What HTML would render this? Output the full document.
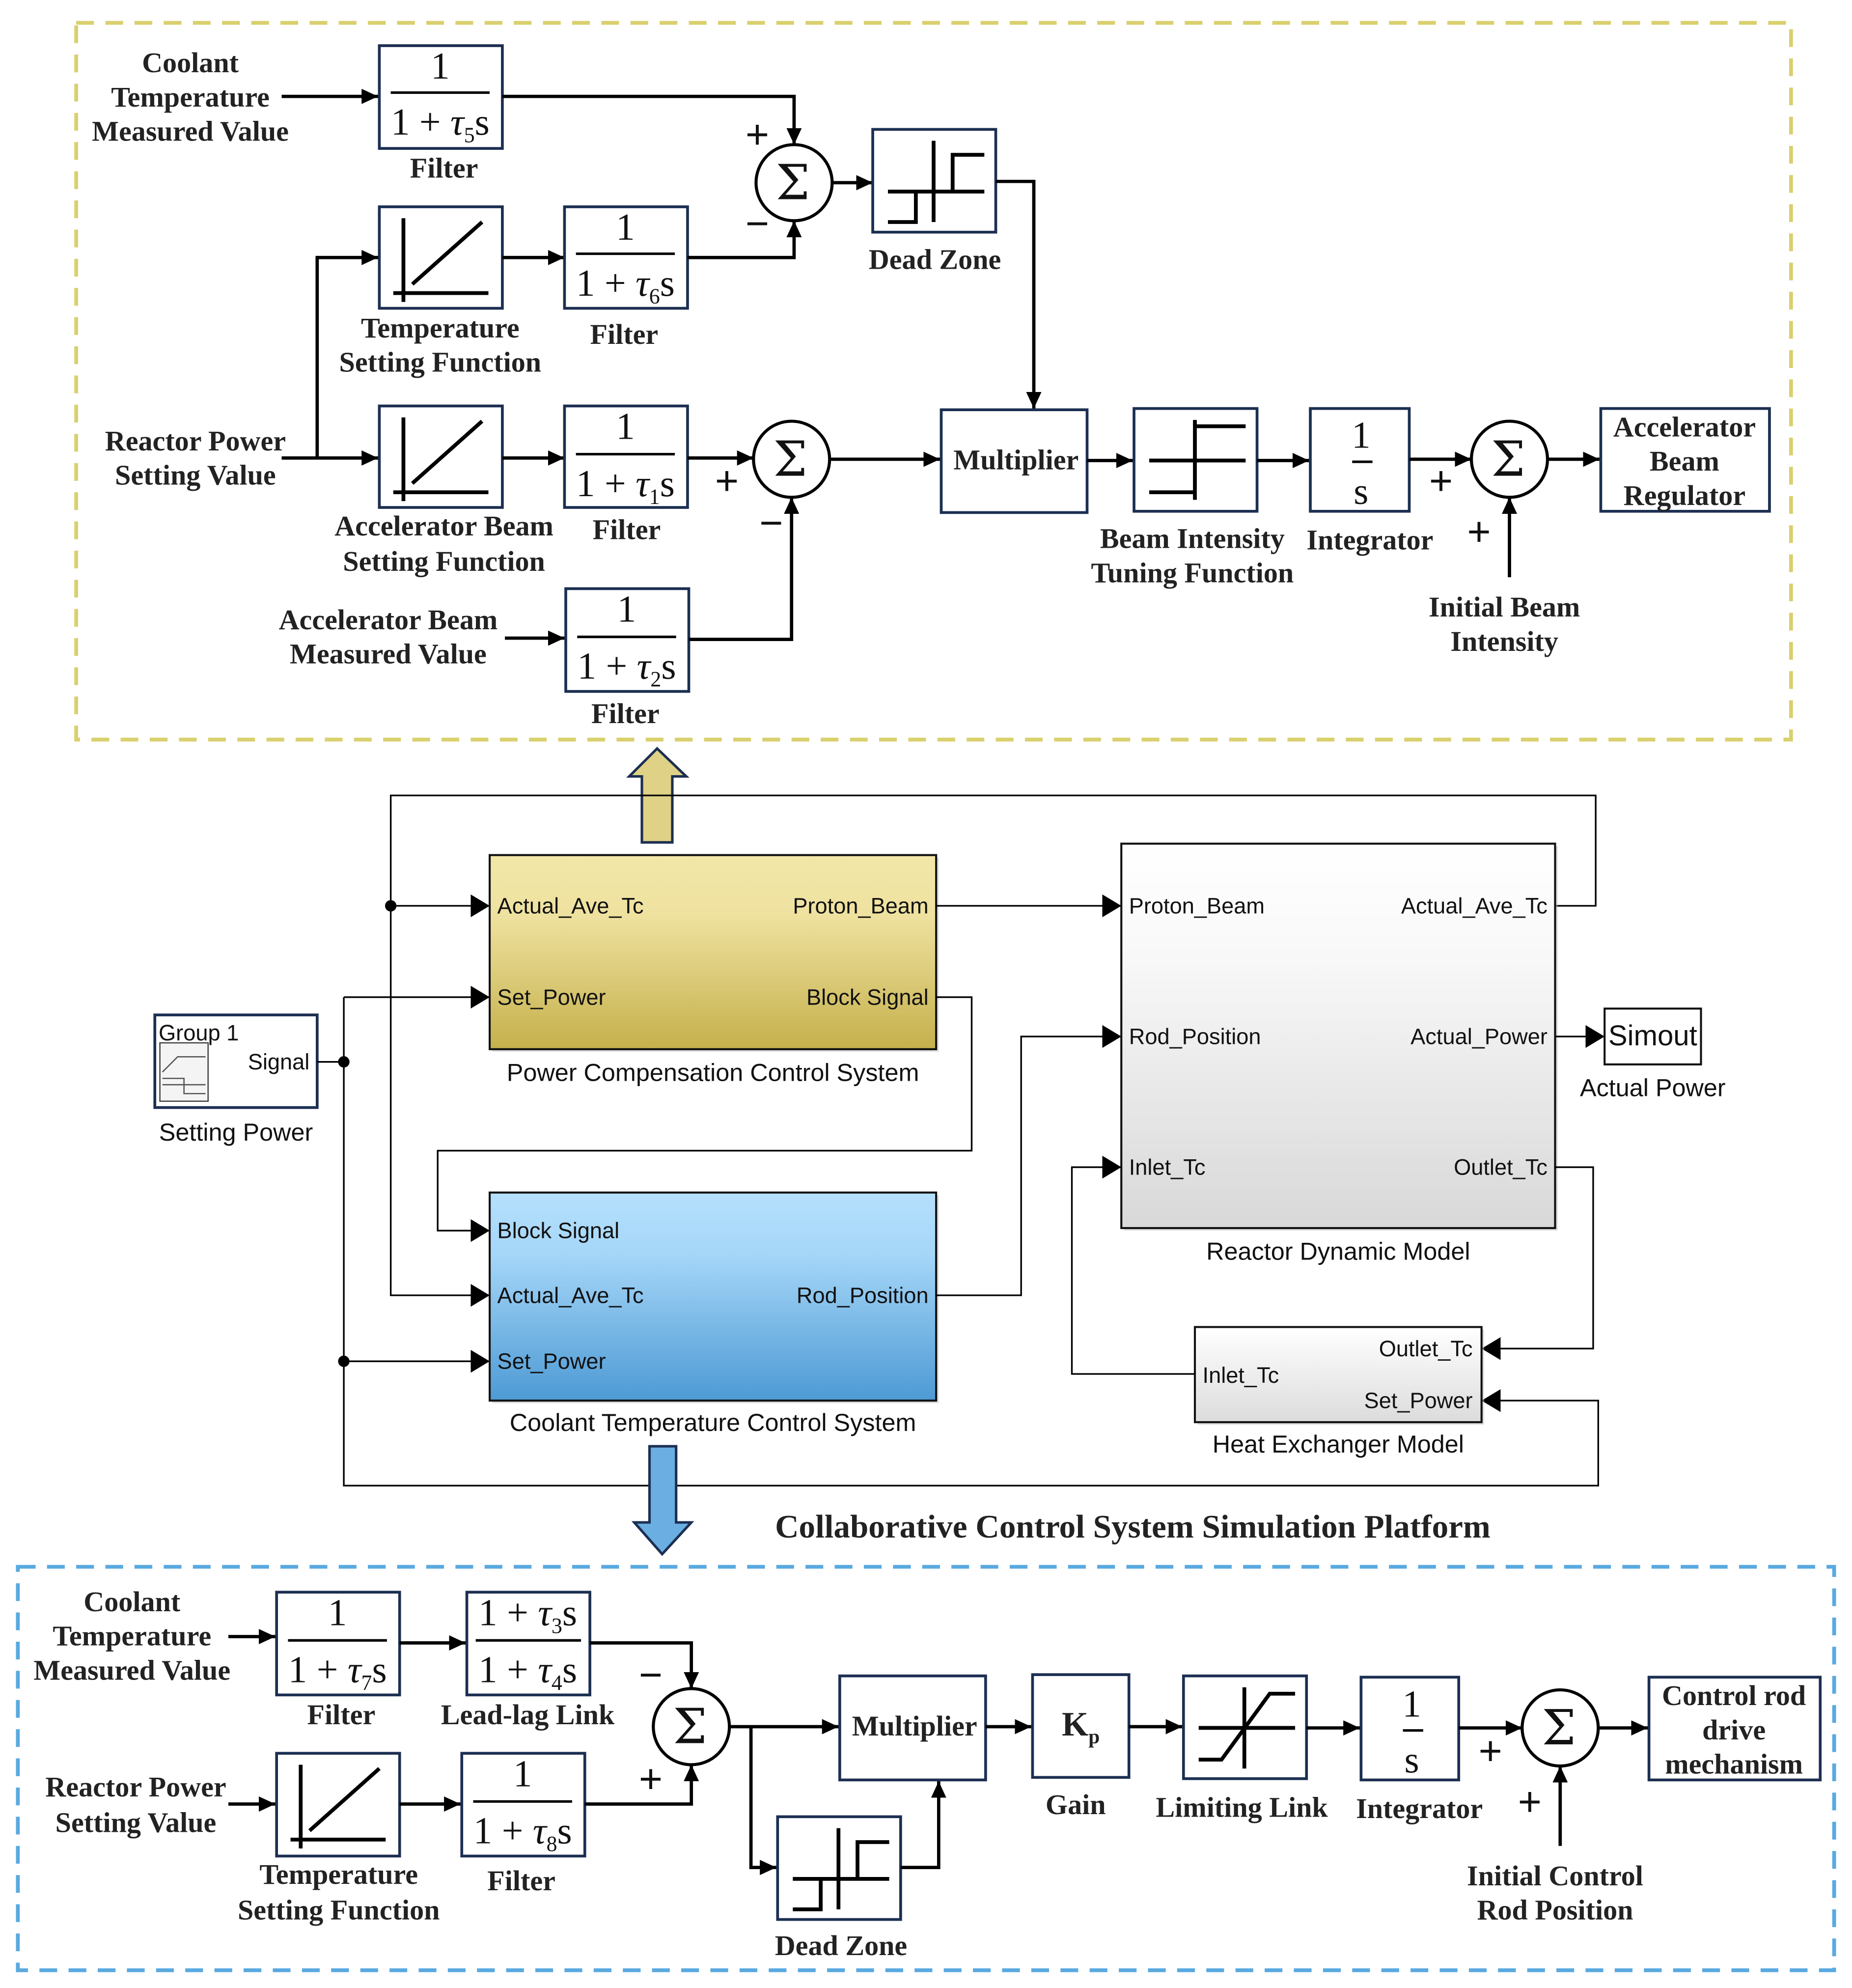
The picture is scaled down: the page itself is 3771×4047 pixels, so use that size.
<!DOCTYPE html>
<html><head><meta charset="utf-8"><style>
html,body{margin:0;padding:0;background:#fff}
svg{display:block}
.b{fill:#fff;stroke:#1c2f52;stroke-width:2.2}
.l{fill:none;stroke:#000;stroke-width:2.6}
.t{fill:none;stroke:#000;stroke-width:1.3}
.ic{fill:none;stroke:#000;stroke-width:3}
.sr{font-family:"Liberation Serif",serif;font-weight:bold;font-size:22.5px;fill:#222;text-anchor:middle}
.f{font-family:"Liberation Serif",serif;font-size:30px;fill:#111;text-anchor:middle}
.sg{font-family:"DejaVu Serif","Liberation Serif",serif;font-size:38px;fill:#111;text-anchor:middle}
.pm{font-family:"Liberation Sans",sans-serif;font-size:32px;fill:#111;text-anchor:middle}
.ss{font-family:"Liberation Sans",sans-serif;font-size:17.5px;fill:#111}
.sc{font-family:"Liberation Sans",sans-serif;font-size:19.5px;fill:#111;text-anchor:middle}
</style></head><body>
<svg width="3771" height="4047" viewBox="0 0 1460 1567" xmlns="http://www.w3.org/2000/svg">
<defs>
<marker id="a" markerUnits="userSpaceOnUse" markerWidth="14" markerHeight="12" refX="13" refY="6" orient="auto"><path d="M0,0 L13,6 L0,12 z" fill="#000"/></marker>
<marker id="m" markerUnits="userSpaceOnUse" markerWidth="16" markerHeight="18" refX="15" refY="9" orient="auto"><path d="M0,0 L15,9 L0,18 z" fill="#000"/></marker>
<linearGradient id="gy" x1="0" y1="0" x2="0" y2="1"><stop offset="0" stop-color="#f2e7a8"/><stop offset="0.3" stop-color="#efe2a0"/><stop offset="1" stop-color="#c5b04c"/></linearGradient>
<linearGradient id="gb" x1="0" y1="0" x2="0" y2="1"><stop offset="0" stop-color="#b5e0fd"/><stop offset="0.3" stop-color="#a5d6f8"/><stop offset="1" stop-color="#4d9ad4"/></linearGradient>
<linearGradient id="gg" x1="0" y1="0" x2="0" y2="1"><stop offset="0" stop-color="#ffffff"/><stop offset="0.3" stop-color="#f8f8f8"/><stop offset="1" stop-color="#d8d8d8"/></linearGradient>
<linearGradient id="gh" x1="0" y1="0" x2="0" y2="1"><stop offset="0" stop-color="#ffffff"/><stop offset="1" stop-color="#dcdcdc"/></linearGradient>
</defs>

<rect x="60" y="18" width="1352" height="565" fill="none" stroke="#d9d06e" stroke-width="3" stroke-dasharray="14,9"/>

<text class="sr" x="150" y="57">Coolant</text>
<text class="sr" x="150" y="84">Temperature</text>
<text class="sr" x="150" y="111">Measured Value</text>
<line class="l" x1="222" y1="76" x2="298" y2="76" marker-end="url(#a)"/>
<rect class="b" x="299" y="36" width="97" height="81"/>
<text class="f" x="347" y="62">1</text><line x1="308" y1="73" x2="386" y2="73" stroke="#000" stroke-width="2"/>
<text class="f" x="347" y="106">1 + <tspan font-style="italic">τ</tspan><tspan style="font-size:17px" dy="6">5</tspan><tspan dy="-6">s</tspan></text>
<text class="sr" x="350" y="140">Filter</text>
<polyline class="l" points="396,76 626,76 626,114" marker-end="url(#a)"/>
<circle cx="626" cy="144" r="30" fill="#fff" stroke="#000" stroke-width="2.4"/>
<text class="sg" x="625" y="157">Σ</text>
<text class="pm" x="597" y="117">+</text><text class="pm" x="597" y="187">−</text>
<line class="l" x1="656" y1="144" x2="688" y2="144" marker-end="url(#a)"/>
<rect class="b" x="688" y="102" width="97" height="81"/>
<g transform="translate(688,102)"><path class="ic" d="M48,9 V73 M12,49 H88 M12,73 H34 V49 M63,49 V20 H88"/></g>
<text class="sr" x="737" y="212">Dead Zone</text>
<polyline class="l" points="785,143 815,143 815,322" marker-end="url(#a)"/>

<rect class="b" x="299" y="163" width="97" height="80"/>
<g transform="translate(299,163)"><path class="ic" d="M11,68 H86 M19,9 V75 M26,61 L81,12"/></g>
<text class="sr" x="347" y="266">Temperature</text>
<text class="sr" x="347" y="293">Setting Function</text>
<line class="l" x1="396" y1="203" x2="445" y2="203" marker-end="url(#a)"/>
<rect class="b" x="445" y="163" width="97" height="80"/>
<text class="f" x="493" y="189">1</text><line x1="454" y1="200" x2="532" y2="200" stroke="#000" stroke-width="2"/>
<text class="f" x="493" y="233">1 + <tspan font-style="italic">τ</tspan><tspan style="font-size:17px" dy="6">6</tspan><tspan dy="-6">s</tspan></text>
<text class="sr" x="492" y="271">Filter</text>
<polyline class="l" points="542,203 626,203 626,174" marker-end="url(#a)"/>

<text class="sr" x="154" y="355">Reactor Power</text>
<text class="sr" x="154" y="382">Setting Value</text>
<polyline class="l" points="222,361 250,361"/>
<polyline class="l" points="250,361 250,203 298,203" marker-end="url(#a)"/>
<line class="l" x1="250" y1="361" x2="298" y2="361" marker-end="url(#a)"/>
<rect class="b" x="299" y="320" width="97" height="80"/>
<g transform="translate(299,320)"><path class="ic" d="M11,68 H86 M19,9 V75 M26,61 L81,12"/></g>
<text class="sr" x="350" y="422">Accelerator Beam</text>
<text class="sr" x="350" y="450">Setting Function</text>
<line class="l" x1="396" y1="361" x2="445" y2="361" marker-end="url(#a)"/>
<rect class="b" x="445" y="320" width="97" height="80"/>
<text class="f" x="493" y="346">1</text><line x1="454" y1="358" x2="532" y2="358" stroke="#000" stroke-width="2"/>
<text class="f" x="493" y="391">1 + <tspan font-style="italic">τ</tspan><tspan style="font-size:17px" dy="6">1</tspan><tspan dy="-6">s</tspan></text>
<text class="sr" x="494" y="425">Filter</text>
<line class="l" x1="542" y1="361" x2="594" y2="361" marker-end="url(#a)"/>
<circle cx="624" cy="362" r="30" fill="#fff" stroke="#000" stroke-width="2.4"/>
<text class="sg" x="623" y="375">Σ</text>
<text class="pm" x="573" y="390">+</text><text class="pm" x="608" y="423">−</text>
<line class="l" x1="654" y1="362" x2="741" y2="362" marker-end="url(#a)"/>
<rect class="b" x="742" y="323" width="115" height="81"/>
<text class="sr" x="801" y="370">Multiplier</text>
<line class="l" x1="857" y1="363" x2="893" y2="363" marker-end="url(#a)"/>
<rect class="b" x="894" y="322" width="97" height="81"/>
<g transform="translate(894,322)"><path class="ic" d="M48,9 V72 M12,41 H88 M48,14 H88 M12,66 H48"/></g>
<text class="sr" x="940" y="432">Beam Intensity</text>
<text class="sr" x="940" y="459">Tuning Function</text>
<line class="l" x1="991" y1="363" x2="1032" y2="363" marker-end="url(#a)"/>
<rect class="b" x="1033" y="322" width="78" height="81"/>
<text class="f" x="1073" y="353">1</text><line x1="1066" y1="364" x2="1082" y2="364" stroke="#000" stroke-width="2"/>
<text class="f" x="1073" y="397">s</text>
<text class="sr" x="1080" y="433">Integrator</text>
<line class="l" x1="1111" y1="362" x2="1160" y2="362" marker-end="url(#a)"/>
<circle cx="1190" cy="362" r="30" fill="#fff" stroke="#000" stroke-width="2.4"/>
<text class="sg" x="1189" y="375">Σ</text>
<text class="pm" x="1136" y="390">+</text><text class="pm" x="1166" y="430">+</text>
<line class="l" x1="1190" y1="455" x2="1190" y2="392" marker-end="url(#a)"/>
<text class="sr" x="1186" y="486">Initial Beam</text>
<text class="sr" x="1186" y="513">Intensity</text>
<line class="l" x1="1220" y1="362" x2="1261" y2="362" marker-end="url(#a)"/>
<rect class="b" x="1262" y="322" width="133" height="81"/>
<text class="sr" x="1328" y="344">Accelerator</text>
<text class="sr" x="1328" y="371">Beam</text>
<text class="sr" x="1328" y="398">Regulator</text>

<text class="sr" x="306" y="496">Accelerator Beam</text>
<text class="sr" x="306" y="523">Measured Value</text>
<line class="l" x1="398" y1="503" x2="445" y2="503" marker-end="url(#a)"/>
<rect class="b" x="446" y="464" width="97" height="81"/>
<text class="f" x="494" y="490">1</text><line x1="455" y1="502" x2="533" y2="502" stroke="#000" stroke-width="2"/>
<text class="f" x="494" y="535">1 + <tspan font-style="italic">τ</tspan><tspan style="font-size:17px" dy="6">2</tspan><tspan dy="-6">s</tspan></text>
<text class="sr" x="493" y="570">Filter</text>
<polyline class="l" points="543,504 624,504 624,392" marker-end="url(#a)"/>

<path d="M506,664 V612 H496 L518,590 L541,612 H530 V664 z" fill="#dfd186" stroke="#1c2f52" stroke-width="2"/>

<polyline class="t" points="1226,714 1258,714 1258,627 308,627 308,1021 386,1021"/>
<line class="t" x1="308" y1="714" x2="386" y2="714" marker-end="url(#m)"/>
<line class="t" x1="370" y1="1021" x2="386" y2="1021" marker-end="url(#m)"/>
<circle cx="308" cy="714" r="4.5" fill="#000"/>
<rect x="388" y="676" width="352" height="153" fill="#bbb" opacity="0.5"/>
<rect x="386" y="674" width="352" height="153" fill="url(#gy)" stroke="#111" stroke-width="1.6"/>
<text class="ss" x="392" y="720">Actual_Ave_Tc</text>
<text class="ss" x="392" y="792">Set_Power</text>
<text class="ss" x="732" y="720" text-anchor="end">Proton_Beam</text>
<text class="ss" x="732" y="792" text-anchor="end">Block Signal</text>
<text class="sc" x="562" y="852">Power Compensation Control System</text>
<line class="t" x1="738" y1="714" x2="884" y2="714" marker-end="url(#m)"/>
<polyline class="t" points="738,786 766,786 766,907 345,907 345,970 386,970" marker-end="url(#m)"/>

<rect class="b" x="122" y="800" width="128" height="73" stroke="#111" stroke-width="1.4"/>
<text class="ss" x="125" y="820">Group 1</text>
<text class="ss" x="244" y="843" text-anchor="end">Signal</text>
<rect x="126" y="822" width="38" height="46" fill="#f4f4f4" stroke="#444" stroke-width="1"/>
<path d="M128,845 L140,833 H162 M128,850 H145 V862 H162 M128,855 H162" fill="none" stroke="#555" stroke-width="1"/>
<text class="sc" x="186" y="899">Setting Power</text>
<line class="t" x1="250" y1="837" x2="271" y2="837"/>
<circle cx="271" cy="837" r="4.5" fill="#000"/>
<polyline class="t" points="271,786 271,1171 1260,1171 1260,1104 1168,1104" marker-end="url(#m)"/>
<line class="t" x1="271" y1="786" x2="386" y2="786" marker-end="url(#m)"/>
<circle cx="271" cy="1073" r="4.5" fill="#000"/>
<line class="t" x1="271" y1="1073" x2="386" y2="1073" marker-end="url(#m)"/>

<rect x="388" y="942" width="352" height="164" fill="#bbb" opacity="0.5"/>
<rect x="386" y="940" width="352" height="164" fill="url(#gb)" stroke="#111" stroke-width="1.6"/>
<text class="ss" x="392" y="976">Block Signal</text>
<text class="ss" x="392" y="1027">Actual_Ave_Tc</text>
<text class="ss" x="392" y="1079">Set_Power</text>
<text class="ss" x="732" y="1027" text-anchor="end">Rod_Position</text>
<text class="sc" x="562" y="1128">Coolant Temperature Control System</text>
<polyline class="t" points="738,1021 805,1021 805,817 884,817" marker-end="url(#m)"/>

<rect x="886" y="667" width="342" height="303" fill="#bbb" opacity="0.5"/>
<rect x="884" y="665" width="342" height="303" fill="url(#gg)" stroke="#111" stroke-width="1.6"/>
<text class="ss" x="890" y="720">Proton_Beam</text>
<text class="ss" x="890" y="823">Rod_Position</text>
<text class="ss" x="890" y="926">Inlet_Tc</text>
<text class="ss" x="1220" y="720" text-anchor="end">Actual_Ave_Tc</text>
<text class="ss" x="1220" y="823" text-anchor="end">Actual_Power</text>
<text class="ss" x="1220" y="926" text-anchor="end">Outlet_Tc</text>
<text class="sc" x="1055" y="993">Reactor Dynamic Model</text>
<line class="t" x1="1226" y1="817" x2="1265" y2="817" marker-end="url(#m)"/>
<rect x="1265" y="795" width="76" height="44" fill="#fff" stroke="#111" stroke-width="1.6"/>
<text class="sc" x="1303" y="824" style="font-size:22.5px">Simout</text>
<text class="sc" x="1303" y="864">Actual Power</text>
<polyline class="t" points="1226,920 1256,920 1256,1063 1168,1063" marker-end="url(#m)"/>
<rect x="944" y="1048" width="226" height="75" fill="#bbb" opacity="0.5"/>
<rect x="942" y="1046" width="226" height="75" fill="url(#gh)" stroke="#111" stroke-width="1.6"/>
<text class="ss" x="1161" y="1069" text-anchor="end">Outlet_Tc</text>
<text class="ss" x="948" y="1090">Inlet_Tc</text>
<text class="ss" x="1161" y="1110" text-anchor="end">Set_Power</text>
<text class="sc" x="1055" y="1145">Heat Exchanger Model</text>
<polyline class="t" points="942,1083 845,1083 845,920 884,920" marker-end="url(#m)"/>

<path d="M512,1140 V1200 H500 L522,1225 L545,1200 H533 V1140 z" fill="#6aaee2" stroke="#1c2f52" stroke-width="2"/>
<text class="sr" x="893" y="1212" style="font-size:26px">Collaborative Control System Simulation Platform</text>

<rect x="14" y="1235" width="1432" height="318" fill="none" stroke="#5aa9e0" stroke-width="3" stroke-dasharray="14,9"/>

<text class="sr" x="104" y="1270">Coolant</text>
<text class="sr" x="104" y="1297">Temperature</text>
<text class="sr" x="104" y="1324">Measured Value</text>
<line class="l" x1="180" y1="1290" x2="217" y2="1290" marker-end="url(#a)"/>
<rect class="b" x="218" y="1255" width="97" height="81"/>
<text class="f" x="266" y="1281">1</text><line x1="227" y1="1293" x2="305" y2="1293" stroke="#000" stroke-width="2"/>
<text class="f" x="266" y="1326">1 + <tspan font-style="italic">τ</tspan><tspan style="font-size:17px" dy="6">7</tspan><tspan dy="-6">s</tspan></text>
<text class="sr" x="269" y="1359">Filter</text>
<line class="l" x1="315" y1="1295" x2="367" y2="1295" marker-end="url(#a)"/>
<rect class="b" x="368" y="1255" width="97" height="81"/>
<text class="f" x="416" y="1281">1 + <tspan font-style="italic">τ</tspan><tspan style="font-size:17px" dy="6">3</tspan><tspan dy="-6">s</tspan></text>
<line x1="375" y1="1293" x2="458" y2="1293" stroke="#000" stroke-width="2"/>
<text class="f" x="416" y="1326">1 + <tspan font-style="italic">τ</tspan><tspan style="font-size:17px" dy="6">4</tspan><tspan dy="-6">s</tspan></text>
<text class="sr" x="416" y="1359">Lead-lag Link</text>
<polyline class="l" points="465,1295 545,1295 545,1331" marker-end="url(#a)"/>
<circle cx="545" cy="1361" r="30" fill="#fff" stroke="#000" stroke-width="2.4"/>
<text class="sg" x="544" y="1374">Σ</text>
<text class="pm" x="513" y="1331">−</text><text class="pm" x="513" y="1413">+</text>

<text class="sr" x="107" y="1416">Reactor Power</text>
<text class="sr" x="107" y="1444">Setting Value</text>
<line class="l" x1="180" y1="1422" x2="217" y2="1422" marker-end="url(#a)"/>
<rect class="b" x="218" y="1382" width="97" height="81"/>
<g transform="translate(218,1382)"><path class="ic" d="M11,68 H86 M19,9 V75 M26,61 L81,12"/></g>
<text class="sr" x="267" y="1485">Temperature</text>
<text class="sr" x="267" y="1513">Setting Function</text>
<line class="l" x1="315" y1="1422" x2="363" y2="1422" marker-end="url(#a)"/>
<rect class="b" x="364" y="1382" width="97" height="81"/>
<text class="f" x="412" y="1408">1</text><line x1="373" y1="1420" x2="451" y2="1420" stroke="#000" stroke-width="2"/>
<text class="f" x="412" y="1453">1 + <tspan font-style="italic">τ</tspan><tspan style="font-size:17px" dy="6">8</tspan><tspan dy="-6">s</tspan></text>
<text class="sr" x="411" y="1490">Filter</text>
<polyline class="l" points="461,1422 545,1422 545,1391" marker-end="url(#a)"/>

<line class="l" x1="575" y1="1361" x2="661" y2="1361" marker-end="url(#a)"/>
<polyline class="l" points="592,1361 592,1472 612,1472" marker-end="url(#a)"/>
<rect class="b" x="613" y="1432" width="97" height="81"/>
<g transform="translate(613,1432)"><path class="ic" d="M48,9 V73 M12,49 H88 M12,73 H34 V49 M63,49 V20 H88"/></g>
<text class="sr" x="663" y="1541">Dead Zone</text>
<polyline class="l" points="710,1472 740,1472 740,1404" marker-end="url(#a)"/>
<rect class="b" x="662" y="1321" width="115" height="82"/>
<text class="sr" x="721" y="1368">Multiplier</text>
<line class="l" x1="777" y1="1361" x2="813" y2="1361" marker-end="url(#a)"/>
<rect class="b" x="814" y="1320" width="76" height="81"/>
<text class="sr" x="852" y="1368" style="font-size:27px">K<tspan style="font-size:16px" dy="6">p</tspan></text>
<text class="sr" x="848" y="1430">Gain</text>
<line class="l" x1="890" y1="1361" x2="932" y2="1361" marker-end="url(#a)"/>
<rect class="b" x="933" y="1321" width="97" height="81"/>
<g transform="translate(933,1321)"><path class="ic" d="M48,9 V73 M12,41 H88 M12,66 H30 L68,14 H88"/></g>
<text class="sr" x="979" y="1432">Limiting Link</text>
<line class="l" x1="1030" y1="1362" x2="1072" y2="1362" marker-end="url(#a)"/>
<rect class="b" x="1073" y="1322" width="77" height="81"/>
<text class="f" x="1113" y="1353">1</text><line x1="1106" y1="1364" x2="1122" y2="1364" stroke="#000" stroke-width="2"/>
<text class="f" x="1113" y="1397">s</text>
<text class="sr" x="1119" y="1433">Integrator</text>
<line class="l" x1="1150" y1="1362" x2="1200" y2="1362" marker-end="url(#a)"/>
<circle cx="1230" cy="1362" r="30" fill="#fff" stroke="#000" stroke-width="2.4"/>
<text class="sg" x="1229" y="1375">Σ</text>
<text class="pm" x="1175" y="1391">+</text><text class="pm" x="1206" y="1431">+</text>
<line class="l" x1="1230" y1="1455" x2="1230" y2="1392" marker-end="url(#a)"/>
<text class="sr" x="1226" y="1486">Initial Control</text>
<text class="sr" x="1226" y="1513">Rod Position</text>
<line class="l" x1="1260" y1="1362" x2="1299" y2="1362" marker-end="url(#a)"/>
<rect class="b" x="1300" y="1322" width="135" height="81"/>
<text class="sr" x="1367" y="1344">Control rod</text>
<text class="sr" x="1367" y="1371">drive</text>
<text class="sr" x="1367" y="1398">mechanism</text>
</svg>
</body></html>
